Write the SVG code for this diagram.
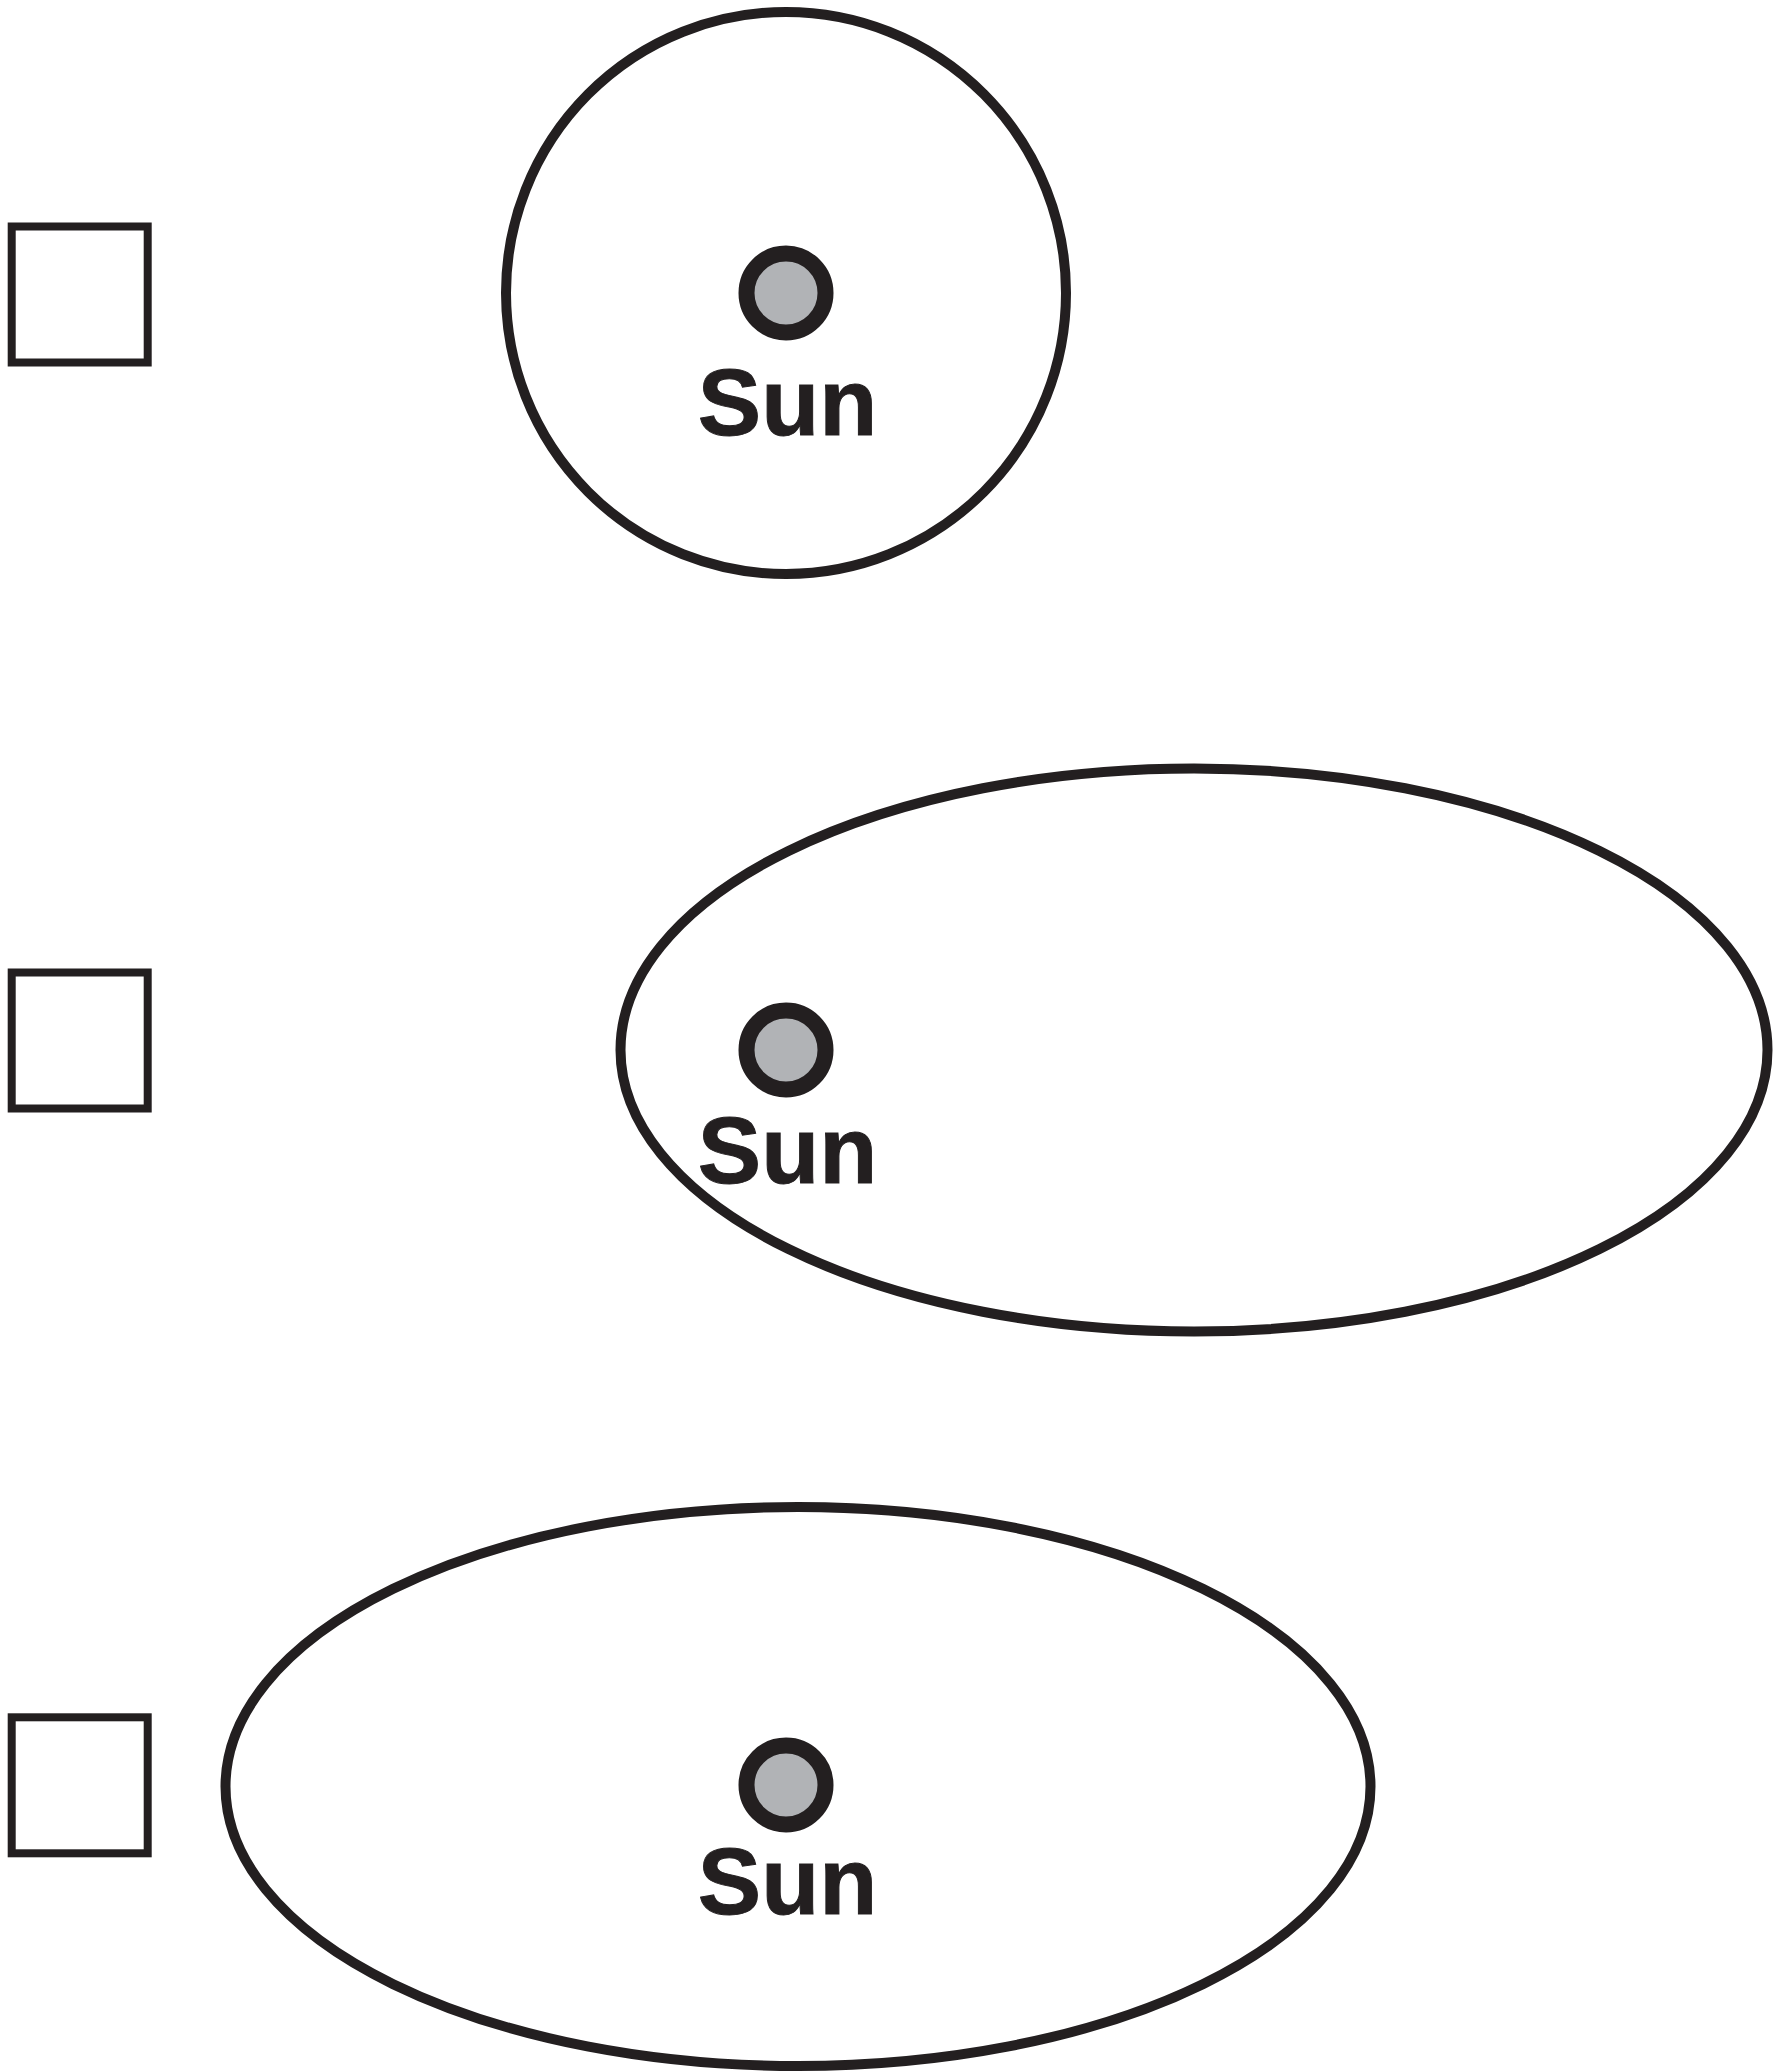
<svg xmlns="http://www.w3.org/2000/svg" width="1779" height="2071" viewBox="0 0 1779 2071">
<style>
.box{fill:#fff;stroke:#231f20;stroke-width:8}
.orbit{fill:none;stroke:#231f20;stroke-width:10}
.sun{fill:#b1b3b6;stroke:#231f20;stroke-width:16}
.lbl{font-family:"Liberation Sans",Arial,sans-serif;font-weight:bold;font-size:95px;fill:#231f20;text-anchor:middle;stroke:#231f20;stroke-width:1}
</style>
<rect width="1779" height="2071" fill="#fff"/>
<g id="option1">
<rect class="box" x="11.7" y="226.5" width="136" height="136"/>
<ellipse class="orbit" cx="786" cy="293" rx="280" ry="281"/>
<circle class="sun" cx="786" cy="293" r="39.5"/>
<text class="lbl" x="787.5" y="435">Sun</text>
</g>
<g id="option2">
<rect class="box" x="11.7" y="972.5" width="136" height="136"/>
<ellipse class="orbit" cx="1194" cy="1050" rx="573.5" ry="281.5"/>
<circle class="sun" cx="786" cy="1050" r="39.5"/>
<text class="lbl" x="787.5" y="1182.5">Sun</text>
</g>
<g id="option3">
<rect class="box" x="11.7" y="1717.3" width="136" height="136"/>
<ellipse class="orbit" cx="798" cy="1786.5" rx="572.5" ry="279.5"/>
<circle class="sun" cx="786" cy="1785" r="39.5"/>
<text class="lbl" x="787.5" y="1914">Sun</text>
</g>
<g id="connectors"/>
</svg>
